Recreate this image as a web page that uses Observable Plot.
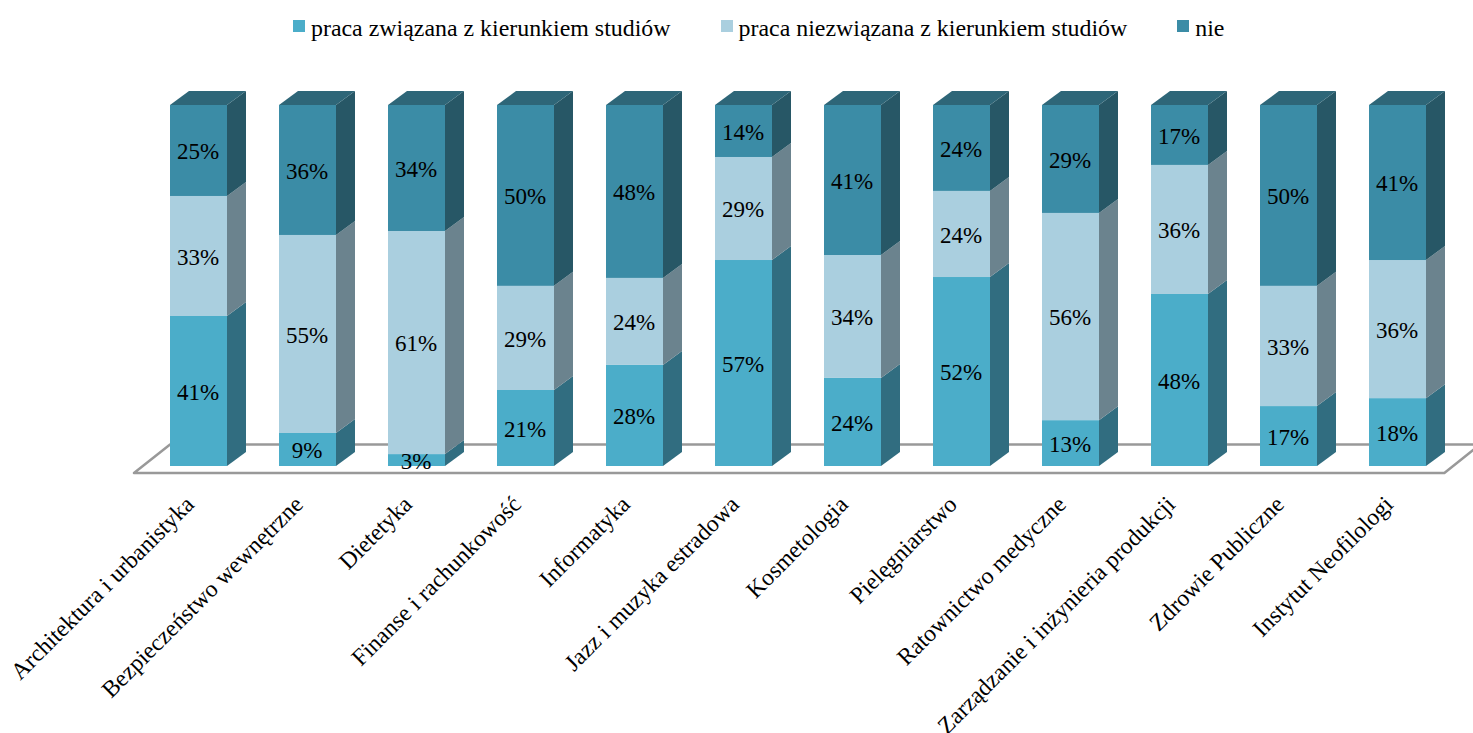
<!DOCTYPE html>
<html lang="pl">
<head>
<meta charset="utf-8">
<script src="https://cdn.jsdelivr.net/npm/d3@7"></script>
<script src="https://cdn.jsdelivr.net/npm/@observablehq/plot@0.6"></script>
<style>
  html, body { margin: 0; padding: 0; background: #fff; overflow: hidden; }
  #legend { height: 60px; box-sizing: border-box; padding-left: 293px; padding-top: 14px; display: flex; align-items: flex-start;
    font-family: "Liberation Serif", serif; font-size: 23.9px; line-height: 28px; color: #000; white-space: nowrap; }
  .item { display: flex; align-items: flex-start; margin-right: 50px; }
  .sw { width: 12px; height: 12px; margin: 6px 6px 0 0; flex: none; }
  svg { display: block; }
</style>
</head>
<body>
<div id="legend"></div>
<div id="chart"></div>
<script>
const categories = ["Architektura i urbanistyka", "Bezpieczeństwo wewnętrzne", "Dietetyka", "Finanse i rachunkowość", "Informatyka", "Jazz i muzyka estradowa", "Kosmetologia", "Pielęgniarstwo", "Ratownictwo medyczne", "Zarządzanie i inżynieria produkcji", "Zdrowie Publiczne", "Instytut Neofilologi"];
const seriesNames = ["praca związana z kierunkiem studiów", "praca niezwiązana z kierunkiem studiów", "nie"];
// printed percentages
const related = [41, 9, 3, 21, 28, 57, 24, 52, 13, 48, 17, 18];
const unrelated = [33, 55, 61, 29, 24, 29, 34, 24, 56, 36, 33, 36];
const none = [25, 36, 34, 50, 48, 14, 41, 24, 29, 17, 50, 41];
// cumulative heights (the printed numbers are rounded)
const relatedTop = [41.55, 9.14, 3.3, 21.05, 28.0, 57.06, 24.4, 52.35, 12.7, 47.65, 16.6, 18.8];
const unrelatedTop = [74.8, 64.0, 65.1, 49.9, 52.1, 85.6, 58.45, 76.2, 70.1, 83.4, 49.9, 57.06];
const frontColors = ["#4BADC9", "#AACFDF", "#3B8CA6"];
const sideColors = ["#316D80", "#6B838E", "#275766"];
const topColor = "#2E6678";
const floorStroke = "#999999";

const barW = 57 / 109, depthX = 19 / 109, depthY = 14 / 3.61;
const seriesValues = [related, unrelated, none];

const segments = [];
categories.forEach((c, i) => {
  const edges = [0, relatedTop[i], unrelatedTop[i], 100];
  seriesValues.forEach((vals, s) => {
    const y1 = edges[s], y2 = edges[s + 1];
    segments.push({i, s, value: vals[i], y1, y2, mid: (y1 + y2) / 2, x1: i - barW / 2, x2: i + barW / 2});
  });
});

const sideRows = s => segments.filter(d => d.s === s).flatMap(d => [
  {id: d.i, x: d.x2, y1: d.y1, y2: d.y2},
  {id: d.i, x: d.x2 + depthX, y1: d.y1 + depthY, y2: d.y2 + depthY}
]);
const topRows = categories.flatMap((c, i) => {
  const l = i - barW / 2, r = i + barW / 2;
  return [
    {id: i, x: l, y1: 100, y2: 100},
    {id: i, x: l + depthX, y1: 100, y2: 100 + depthY},
    {id: i, x: r, y1: 100, y2: 100 + depthY},
    {id: i, x: r + depthX, y1: 100 + depthY, y2: 100 + depthY}
  ];
});
const floorFront = -1.94, floorBack = 5.96;
const floorRows = [
  {x: -0.592, y1: floorFront, y2: floorFront},
  {x: -0.261, y1: floorFront, y2: floorBack},
  {x: 11.43, y1: floorFront, y2: floorBack},
  {x: 11.757, y1: floorBack, y2: floorBack}
];

const legend = document.getElementById("legend");
seriesNames.forEach((n, s) => {
  const item = document.createElement("div");
  item.className = "item";
  const sw = document.createElement("span");
  sw.className = "sw";
  sw.style.background = frontColors[s];
  const t = document.createElement("span");
  t.textContent = n;
  item.append(sw, t);
  legend.append(item);
});

const chart = Plot.plot({
  width: 1473,
  height: 673,
  marginTop: 45,
  marginBottom: 267,
  marginLeft: 0,
  marginRight: 0,
  style: {fontFamily: "'Liberation Serif', serif", background: "#fff", overflow: "hidden"},
  x: {type: "linear", domain: [0, 11], range: [198.5, 1397.5], axis: null},
  y: {domain: [0, 100], axis: null},
  marks: [
    Plot.area(floorRows, {x1: "x", y1: "y1", y2: "y2", fill: "#fff", stroke: floorStroke, strokeWidth: 2.5}),
    ...[0, 1, 2].map(s => Plot.area(sideRows(s), {x1: "x", y1: "y1", y2: "y2", z: "id", fill: sideColors[s]})),
    Plot.area(topRows, {x1: "x", y1: "y1", y2: "y2", z: "id", fill: topColor}),
    ...[0, 1, 2].map(s => Plot.rect(segments.filter(d => d.s === s), {x1: "x1", x2: "x2", y1: "y1", y2: "y2", fill: frontColors[s]})),
    Plot.text(segments, {x: "i", y: "mid", text: d => d.value + "%", fontSize: 23, fill: "#000", dx: -1, dy: 1}),
    Plot.axisX(d3.range(categories.length), {
      tickFormat: i => categories[i],
      tickRotate: -45,
      textAnchor: "end",
      tickSize: 0,
      tickPadding: 34,
      dx: -9,
      fontSize: 23.6,
      fill: "#000",
      label: null
    })
  ]
});
document.getElementById("chart").append(chart);
</script>
</body>
</html>
